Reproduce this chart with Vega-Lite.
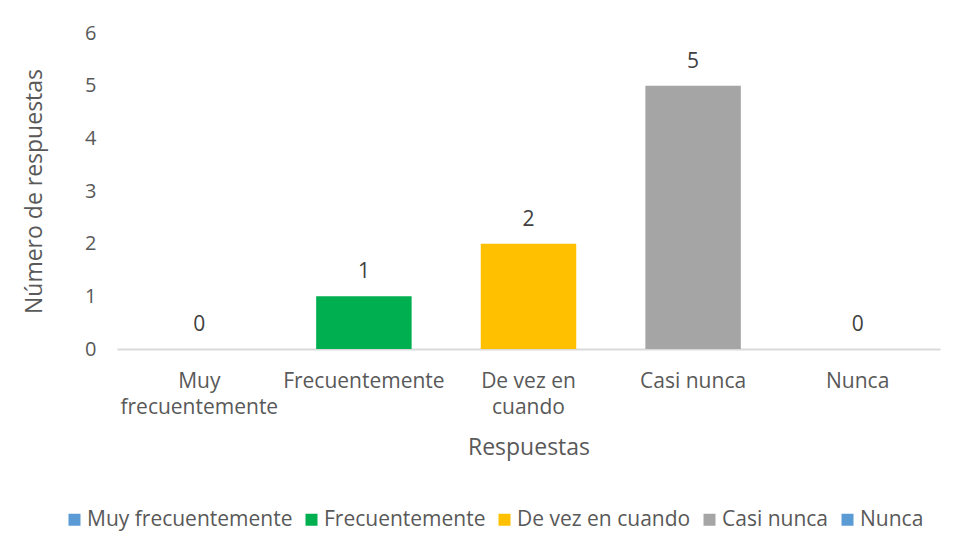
{
  "$schema": "https://vega.github.io/schema/vega-lite/v6.json",
  "width": 823,
  "height": 316,
  "autosize": {"type": "none"},
  "padding": {"left": 117, "top": 33, "right": 18, "bottom": 208},
  "background": "white",
  "config": {
    "view": {"stroke": null},
    "font": "Open Sans",
    "text": {"font": "Open Sans"}
  },
  "data": {
    "values": [
      {"respuesta": "Muy frecuentemente", "n": 0},
      {"respuesta": "Frecuentemente", "n": 1},
      {"respuesta": "De vez en cuando", "n": 2},
      {"respuesta": "Casi nunca", "n": 5},
      {"respuesta": "Nunca", "n": 0}
    ]
  },
  "encoding": {
    "x": {
      "field": "respuesta",
      "type": "nominal",
      "sort": null,
      "scale": {"paddingInner": 0.42, "paddingOuter": 0.21},
      "axis": {
        "title": "Respuestas",
        "titleFont": "Open Sans",
        "titleFontSize": 23,
        "titleFontWeight": "normal",
        "titleColor": "#595959",
        "titlePadding": 19,
        "labelAngle": 0,
        "labelFont": "Open Sans",
        "labelFontSize": 21,
        "labelColor": "#595959",
        "labelPadding": 32,
        "labelLineHeight": 26,
        "labelBaseline": "middle",
        "labelLimit": 300,
        "labelExpr": "datum.value == 'Muy frecuentemente' ? ['Muy', 'frecuentemente'] : datum.value == 'De vez en cuando' ? ['De vez en', 'cuando'] : datum.value",
        "ticks": false,
        "domainColor": "#d9d9d9",
        "domainWidth": 2
      }
    },
    "y": {
      "field": "n",
      "type": "quantitative",
      "scale": {"domain": [0, 6]},
      "axis": {
        "title": "Número de respuestas",
        "titleFont": "Open Sans",
        "titleFontSize": 23,
        "titleFontWeight": "normal",
        "titleColor": "#595959",
        "titlePadding": 38,
        "values": [0, 1, 2, 3, 4, 5, 6],
        "labelFont": "Open Sans",
        "labelFontSize": 20,
        "labelColor": "#595959",
        "labelPadding": 21,
        "ticks": false,
        "domain": false,
        "grid": false
      }
    }
  },
  "layer": [
    {
      "mark": {"type": "bar"},
      "encoding": {
        "color": {
          "field": "respuesta",
          "type": "nominal",
          "sort": null,
          "scale": {
            "domain": ["Muy frecuentemente", "Frecuentemente", "De vez en cuando", "Casi nunca", "Nunca"],
            "range": ["#5B9BD5", "#00B050", "#FFC000", "#A5A5A5", "#5B9BD4"]
          },
          "legend": {
            "title": null,
            "orient": "none",
            "direction": "horizontal",
            "legendX": -53,
            "legendY": 476,
            "symbolType": "square",
            "symbolSize": 144,
            "symbolStrokeWidth": 0,
            "symbolOpacity": 1,
            "labelFont": "Open Sans",
            "labelFontSize": 21,
            "labelColor": "#595959",
            "labelOffset": 2,
            "labelLimit": 300,
            "columnPadding": 8
          }
        }
      }
    },
    {
      "mark": {"type": "text", "baseline": "bottom", "dy": -14, "fontSize": 21, "color": "#404040", "font": "Open Sans"},
      "encoding": {"text": {"field": "n", "type": "quantitative"}}
    }
  ]
}
